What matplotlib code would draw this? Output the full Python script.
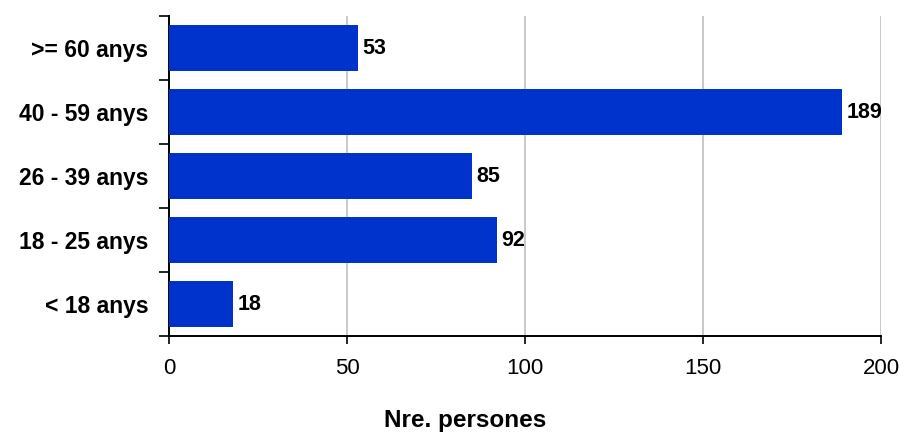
import matplotlib
matplotlib.use("Agg")
import matplotlib.pyplot as plt
from matplotlib.transforms import offset_copy
import numpy as np

categories = ["< 18 anys", "18 - 25 anys", "26 - 39 anys", "40 - 59 anys", ">= 60 anys"]
values = [18, 92, 85, 189, 53]

plt.rcParams['font.family'] = ['Liberation Sans', 'DejaVu Sans']

fig = plt.figure(figsize=(9.05, 4.34), dpi=100)
ax = fig.add_axes([0.1867, 0.2258, 0.7868, 0.7373])

y = np.arange(len(categories))
ax.barh(y, values, height=0.72, color="#0033cc", zorder=3)
lbl_tr = offset_copy(ax.transData, fig=fig, x=5, y=0, units="dots")
for yi, v in zip(y, values):
    ax.text(v, yi, str(v), va="center", ha="left", fontsize=15.5, fontweight="bold",
            zorder=4, transform=lbl_tr)

ax.set_xlim(0, 200)
ax.set_ylim(-0.5, len(categories) - 0.5)
ax.set_xticks([0, 50, 100, 150, 200])
ax.tick_params(axis="x", labelsize=16, length=6, width=1.2, pad=10, direction="out")
ax.xaxis.grid(True, color="#c0c0c0", linewidth=1.2, zorder=0)

ax.set_yticks(y)
ax.set_yticklabels(categories, fontsize=16.5, fontweight="bold")
ax.set_yticks(np.arange(-0.5, len(categories)), minor=True)
ax.tick_params(axis="y", which="major", length=0, pad=15)
ax.tick_params(axis="y", which="minor", length=7, width=1.2, direction="out")

for s in ["top", "right"]:
    ax.spines[s].set_visible(False)
ax.spines["left"].set_linewidth(1.4)
ax.spines["bottom"].set_linewidth(1.4)

fig.text(465 / 905, 1 - 420 / 434, "Nre. persones", fontsize=17.5, fontweight="bold",
         ha="center", va="center")

fig.savefig("out.png", dpi=100)
